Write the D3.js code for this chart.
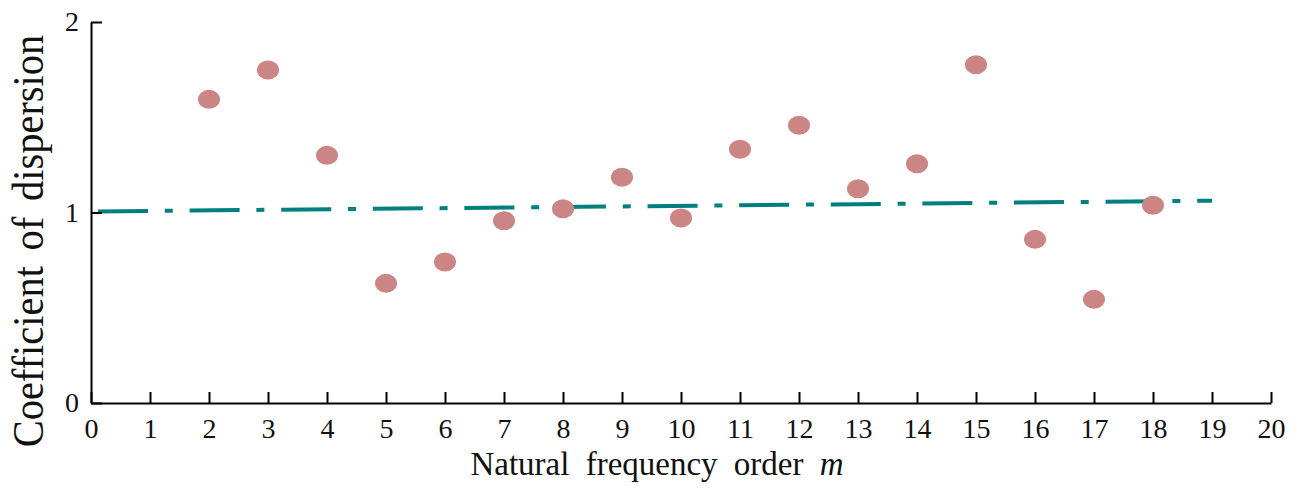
<!DOCTYPE html>
<html>
<head>
<meta charset="utf-8">
<script src="https://cdn.jsdelivr.net/npm/d3@7"></script>
<style>
  html, body { margin: 0; padding: 0; background: #fff; }
  svg { display: block; }
</style>
</head>
<body>
<div id="chart"></div>
<script>
// natural frequency order m and its coefficient of dispersion
const orders = [2, 3, 4, 5, 6, 7, 8, 9, 10, 11, 12, 13, 14, 15, 16, 17, 18]
const dispersion = [1.594, 1.748, 1.300, 0.628, 0.740, 0.957, 1.020, 1.185, 0.971,
                    1.332, 1.458, 1.125, 1.256, 1.776, 0.859, 0.544, 1.038]

// fitted trend line (dash-dot)
const trendX = [0, 19]
const trendY = [1.005, 1.062]

const xTicks = d3.range(0, 21)
const yTicks = [0, 1, 2]

const width = 1304;
const height = 493;
const margin = ({top: 22, right: 33, bottom: 90, left: 91})

const font = '"Liberation Serif", "Times New Roman", serif'
const pointColor = '#cc8585'
const lineColor = '#007f7f'

const x = d3.scaleLinear()
    .domain([0, 20])
    .range([margin.left, width - margin.right])

const y = d3.scaleLinear()
    .domain([0, 2])
    .range([height - margin.bottom, margin.top])

const xAxis = g => g
    .attr("transform", `translate(0,${height - margin.bottom})`)
    .call(d3.axisBottom(x).tickValues(xTicks).tickFormat(d3.format("d"))
        .tickSizeInner(-11).tickSizeOuter(0).tickPadding(15))
    .call(g => g.select(".domain").attr("stroke-width", 2))
    .call(g => g.selectAll(".tick line").attr("stroke-width", 2))

const yAxis = g => g
    .attr("transform", `translate(${margin.left},0)`)
    .call(d3.axisLeft(y).tickValues(yTicks).tickFormat(d3.format("d"))
        .tickSizeInner(-11).tickSizeOuter(0).tickPadding(12))
    .call(g => g.select(".domain").attr("stroke-width", 2))
    .call(g => g.selectAll(".tick line").attr("stroke-width", 2))

const svg = d3.select("#chart").append("svg")
    .attr("width", width)
    .attr("height", height)
    .attr("viewBox", [0, 0, width, height]);

// trend line
const line = d3.line()
    .x(d => x(d[0]))
    .y(d => y(d[1]))

svg.append("path")
    .datum(d3.zip(trendX, trendY))
    .attr("fill", "none")
    .attr("stroke", lineColor)
    .attr("stroke-width", 4)
    .attr("stroke-dasharray", "50 16.8 8 16.8")
    .attr("stroke-dashoffset", 84.6)
    .attr("d", line)

// scatter points
svg.append("g")
    .attr("fill", pointColor)
  .selectAll("ellipse")
  .data(orders)
  .join("ellipse")
    .attr("cx", d => x(d))
    .attr("cy", (d, i) => y(dispersion[i]))
    .attr("rx", 11)
    .attr("ry", 9.5)

svg.append("g").call(xAxis);
svg.append("g").call(yAxis);

svg.selectAll(".tick text")
    .attr("font-family", font)
    .attr("font-size", 28)
    .attr("fill", "#111")

// axis titles
svg.append("text")
    .attr("x", 657)
    .attr("y", 475)
    .attr("text-anchor", "middle")
    .attr("font-family", font)
    .attr("font-size", 33)
    .attr("word-spacing", 8)
    .attr("fill", "#111")
    .text("Natural frequency order ")
    .append("tspan")
    .attr("font-style", "italic")
    .text("m")

svg.append("text")
    .attr("transform", "translate(43,241) rotate(-90) scale(0.92,1)")
    .attr("text-anchor", "middle")
    .attr("font-family", font)
    .attr("font-size", 44)
    .attr("word-spacing", 6)
    .attr("fill", "#111")
    .text("Coefficient of dispersion")
</script>
</body>
</html>
